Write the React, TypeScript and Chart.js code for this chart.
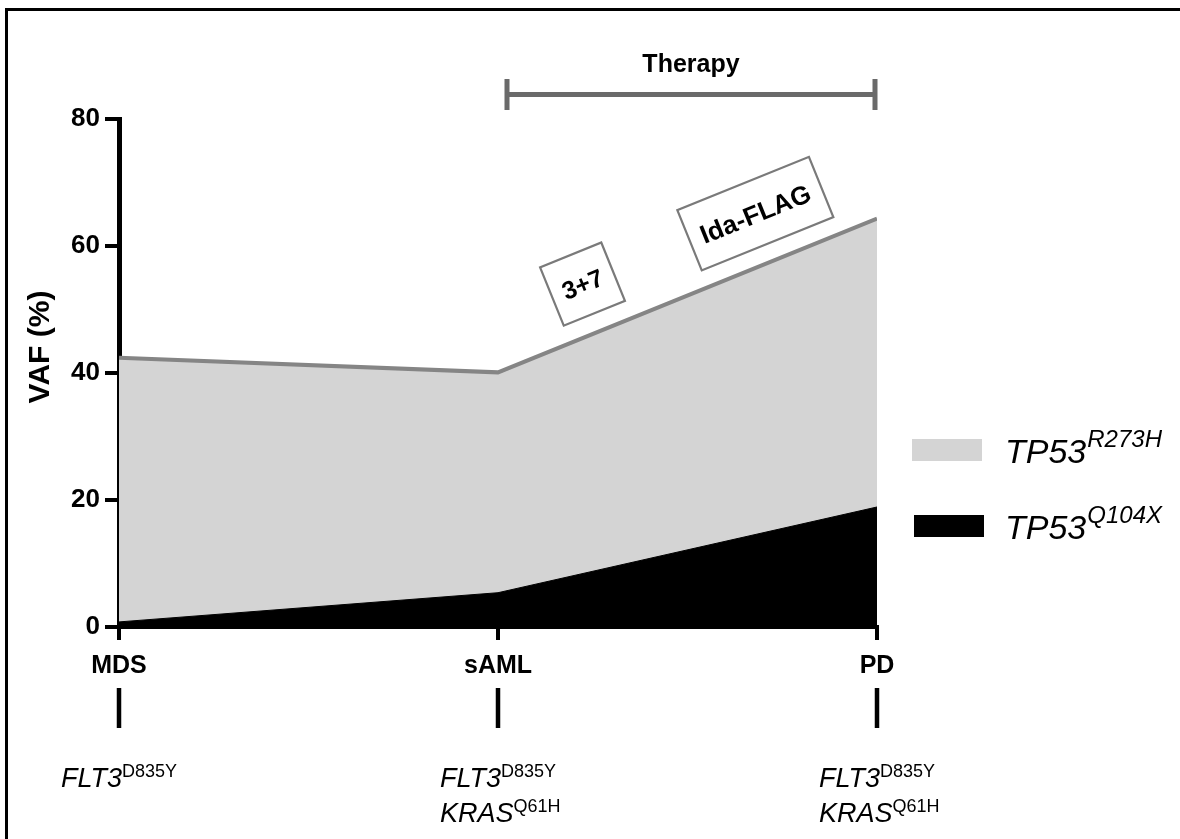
import React, { useEffect, useRef } from 'react';
import { Chart, registerables } from 'chart.js';

Chart.register(...registerables);

// Disease stages along the time axis
const stages = ['MDS', 'sAML', 'PD'];
// Variant allele frequency (%) of each TP53 variant per stage
const vafR273H = [42.4, 40.1, 64.3];
const vafQ104X = [0.8, 5.4, 18.9];
const yTicks = [0, 20, 40, 60, 80];

// Co-occurring mutations listed under each stage: [gene, variant]
const mutationsMDS = [['FLT3', 'D835Y']];
const mutationsSAML = [['FLT3', 'D835Y'], ['KRAS', 'Q61H']];
const mutationsPD = [['FLT3', 'D835Y'], ['KRAS', 'Q61H']];
const stageMutations = [mutationsMDS, mutationsSAML, mutationsPD];

// Legend entries: [gene, variant]
const legendEntries = [['TP53', 'R273H'], ['TP53', 'Q104X']];

const therapyLabel = 'Therapy';
const regimenLabels = ['3+7', 'Ida-FLAG'];

const FONT = "'Liberation Sans', Arial, Helvetica, sans-serif";
const GREY_FILL = '#d4d4d4';
const GREY_EDGE = '#858585';
const BLACK = '#000000';
const legendColors = [GREY_FILL, BLACK];

// Draw a gene name in italics followed by its variant as a superscript
function drawSuper(
  ctx: CanvasRenderingContext2D,
  base: string,
  sup: string,
  x: number,
  y: number,
  baseFont: string,
  supFont: string,
  rise: number,
  gap: number
) {
  ctx.font = baseFont;
  ctx.textAlign = 'left';
  ctx.textBaseline = 'alphabetic';
  ctx.fillText(base, x, y);
  const w = ctx.measureText(base).width;
  ctx.font = supFont;
  ctx.fillText(sup, x + w + gap, y - rise);
}

const decorations = {
  id: 'decorations',
  beforeDraw(chart: any) {
    const ctx: CanvasRenderingContext2D = chart.ctx;
    ctx.save();
    ctx.fillStyle = '#ffffff';
    ctx.fillRect(0, 0, chart.width, chart.height);
    // figure frame (top and left edges)
    ctx.strokeStyle = BLACK;
    ctx.lineWidth = 3;
    ctx.beginPath();
    ctx.moveTo(6.5, chart.height);
    ctx.lineTo(6.5, 9.5);
    ctx.lineTo(chart.width, 9.5);
    ctx.stroke();
    ctx.restore();
  },
  afterDraw(chart: any) {
    const ctx: CanvasRenderingContext2D = chart.ctx;
    const xs = chart.scales.x;
    const ys = chart.scales.y;
    ctx.save();
    ctx.fillStyle = BLACK;

    // y axis title
    ctx.save();
    ctx.translate(41, 347);
    ctx.rotate(-Math.PI / 2);
    ctx.font = `bold 30px ${FONT}`;
    ctx.textAlign = 'center';
    ctx.textBaseline = 'middle';
    ctx.fillText('VAF (%)', 0, 0);
    ctx.restore();

    // therapy bracket spanning sAML -> PD
    const tx1 = xs.getPixelForValue(1) + 9;
    const tx2 = xs.getPixelForValue(2) - 2;
    const ty = 94.5;
    ctx.strokeStyle = '#6a6a6a';
    ctx.lineWidth = 5;
    ctx.beginPath();
    ctx.moveTo(tx1, ty);
    ctx.lineTo(tx2, ty);
    ctx.moveTo(tx1, 79);
    ctx.lineTo(tx1, 110);
    ctx.moveTo(tx2, 79);
    ctx.lineTo(tx2, 110);
    ctx.stroke();
    ctx.font = `bold 25px ${FONT}`;
    ctx.textAlign = 'center';
    ctx.textBaseline = 'alphabetic';
    ctx.fillText(therapyLabel, (tx1 + tx2) / 2, 72);

    // regimen boxes, tilted along the rising TP53 R273H edge
    const angle = Math.atan2(
      ys.getPixelForValue(vafR273H[2]) - ys.getPixelForValue(vafR273H[1]),
      xs.getPixelForValue(2) - xs.getPixelForValue(1)
    );
    const boxes = [
      { x: 1.223, y: 54.0, w: 66, h: 63, size: 25 },
      { x: 1.679, y: 65.1, w: 142, h: 65, size: 26 },
    ];
    boxes.forEach((b, i) => {
      ctx.save();
      ctx.translate(xs.getPixelForValue(b.x), ys.getPixelForValue(b.y));
      ctx.rotate(angle);
      ctx.fillStyle = '#ffffff';
      ctx.fillRect(-b.w / 2, -b.h / 2, b.w, b.h);
      ctx.strokeStyle = '#7a7a7a';
      ctx.lineWidth = 2.2;
      ctx.strokeRect(-b.w / 2, -b.h / 2, b.w, b.h);
      ctx.fillStyle = BLACK;
      ctx.font = `bold ${b.size}px ${FONT}`;
      ctx.textAlign = 'center';
      ctx.textBaseline = 'middle';
      ctx.fillText(regimenLabels[i], 0, 2);
      ctx.restore();
    });

    // legend
    legendEntries.forEach(([gene, variant], i) => {
      const top = 439 + i * 76;
      ctx.fillStyle = legendColors[i];
      ctx.fillRect(912 + i * 2, top, 70, 22);
      ctx.fillStyle = BLACK;
      drawSuper(
        ctx,
        gene,
        variant,
        1005,
        top + 24,
        `italic 34px ${FONT}`,
        `italic 24px ${FONT}`,
        16,
        1
      );
    });

    // stage markers and co-occurring mutations below the x axis
    ctx.strokeStyle = BLACK;
    ctx.lineWidth = 4.5;
    stageMutations.forEach((muts, i) => {
      const px = xs.getPixelForValue(i);
      ctx.beginPath();
      ctx.moveTo(px, 688);
      ctx.lineTo(px, 728);
      ctx.stroke();
      muts.forEach(([gene, variant], j) => {
        drawSuper(
          ctx,
          gene,
          variant,
          px - 58,
          787 + j * 35,
          `italic 27px ${FONT}`,
          `18px ${FONT}`,
          10,
          0
        );
      });
    });

    ctx.restore();
  },
};

export default function App() {
  const canvasRef = useRef<HTMLCanvasElement | null>(null);

  useEffect(() => {
    const canvas = canvasRef.current;
    if (!canvas) return;
    const chart = new Chart(canvas, {
      type: 'line',
      data: {
        datasets: [
          {
            label: 'TP53 R273H',
            data: vafR273H.map((v, i) => ({ x: i, y: v })),
            borderColor: GREY_EDGE,
            borderWidth: 4,
            backgroundColor: GREY_FILL,
            fill: 'origin',
            pointRadius: 0,
            tension: 0,
            order: 2,
          },
          {
            label: 'TP53 Q104X',
            data: vafQ104X.map((v, i) => ({ x: i, y: v })),
            borderColor: BLACK,
            borderWidth: 1,
            backgroundColor: BLACK,
            fill: 'origin',
            pointRadius: 0,
            tension: 0,
            order: 1,
          },
        ],
      },
      options: {
        animation: false,
        responsive: false,
        devicePixelRatio: 1,
        layout: { padding: { top: 119, right: 303, bottom: 0, left: 0 } },
        plugins: {
          legend: { display: false },
          tooltip: { enabled: false },
          title: { display: false },
        },
        scales: {
          x: {
            type: 'linear',
            min: 0,
            max: stages.length - 1,
            afterBuildTicks: (s: any) => {
              s.ticks = stages.map((_, i) => ({ value: i }));
            },
            afterFit: (s: any) => {
              s.height = 212;
            },
            ticks: {
              callback: (v: any) => stages[Math.round(Number(v))],
              font: { family: FONT, size: 25, weight: 'bold' },
              color: BLACK,
              padding: 11,
              maxRotation: 0,
              autoSkip: false,
            },
            grid: {
              drawOnChartArea: false,
              drawTicks: true,
              tickLength: 13,
              lineWidth: 4,
              color: BLACK,
            },
            border: { display: true, width: 4, color: BLACK },
          },
          y: {
            min: 0,
            max: 80,
            afterBuildTicks: (s: any) => {
              s.ticks = yTicks.map((v) => ({ value: v }));
            },
            afterFit: (s: any) => {
              s.width = 119;
            },
            ticks: {
              font: { family: FONT, size: 26, weight: 'bold' },
              color: BLACK,
              padding: 5,
            },
            grid: {
              drawOnChartArea: false,
              drawTicks: true,
              tickLength: 14,
              lineWidth: 4,
              color: BLACK,
            },
            border: { display: true, width: 5, color: BLACK },
          },
        },
      },
      plugins: [decorations],
    } as any);
    return () => chart.destroy();
  }, []);

  return (
    <div
      style={{
        position: 'absolute',
        left: 0,
        top: 0,
        width: 1180,
        height: 839,
        background: '#fff',
      }}
    >
      <canvas ref={canvasRef} width={1180} height={839} style={{ display: 'block' }} />
    </div>
  );
}
